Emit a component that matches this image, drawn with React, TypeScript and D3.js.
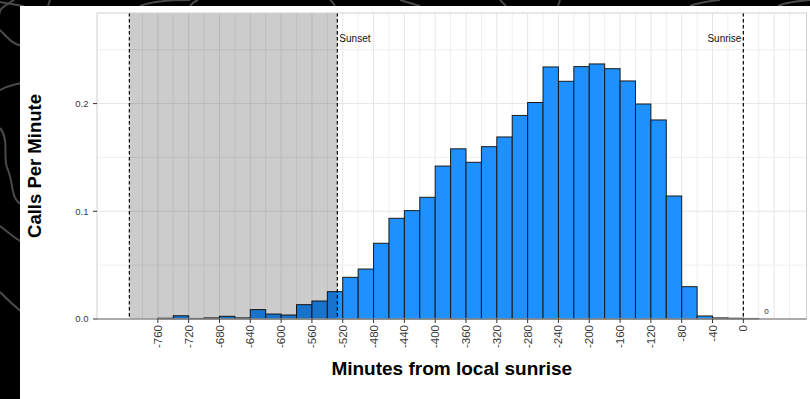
import React from "react";
import * as d3 from "d3";

// bin start (minutes from sunrise), each bin 20 minutes wide
const binStarts = [-760, -740, -720, -700, -680, -660, -640, -620, -600, -580, -560, -540, -520, -500, -480, -460, -440, -420, -400, -380, -360, -340, -320, -300, -280, -260, -240, -220, -200, -180, -160, -140, -120, -100, -80, -60, -40, -20, 0];
const callsPerMinute = [0.0007, 0.003, 0.0005, 0.001, 0.0025, 0.001, 0.0087, 0.0046, 0.0037, 0.0133, 0.0167, 0.0254, 0.0387, 0.0464, 0.0703, 0.0935, 0.1006, 0.113, 0.142, 0.158, 0.1455, 0.16, 0.169, 0.189, 0.201, 0.234, 0.2207, 0.2343, 0.2368, 0.2324, 0.221, 0.1996, 0.1848, 0.1142, 0.03, 0.0028, 0.001, 0.0007, 0.0005];
const binWidth = 20;
const xTicks = d3.range(-760, 1, 40);
const yTicks = [0, 0.1, 0.2];
const yMinor = [0.05, 0.15, 0.25];
const xGrid = d3.range(-780, 61, 20);
const nightStart = -797;
const sunset = -527;
const sunrise = 0;

const W = 810;
const H = 399;
const FONT = "'Liberation Sans', Arial, Helvetica, sans-serif";

export default function App() {
  const x = d3.scaleLinear().domain([-839, 82]).range([97, 806.5]);
  const y = d3.scaleLinear().domain([0, 0.2841]).range([319, 13]);
  const [x0, x1] = x.range();
  const [yb, yt] = y.range();

  return (
    <div style={{ position: "fixed", left: 0, top: 0 }}>
      <svg width={W} height={H} style={{ display: "block" }}>
        <rect x={0} y={0} width={W} height={H} fill="#000" />
        {/* decorative contour lines in background */}
        <g fill="none" stroke="#4a4a4a" strokeWidth={2}>
          <path d="M14,0 C4,6 -2,10 0,14" />
          <path d="M0,30 C8,38 12,44 22,46" />
          <path d="M0,90 C8,86 14,84 22,83" />
          <path d="M0,128 C10,140 2,160 8,170 C14,185 10,198 22,205" />
          <path d="M0,226 C8,232 14,238 22,242" />
          <path d="M0,292 C8,300 14,306 22,312" />
          <path d="M0,2 C10,4 16,5 24,6" />
          <path d="M50,0 L48,6" />
          <path d="M140,6 C150,2 170,0 190,0" />
          <path d="M190,6 C192,3 195,1 198,0" />
          <path d="M330,0 C333,2 334,4 335,6" />
          <path d="M400,0 C410,3 416,5 420,6" />
          <path d="M500,0 L506,6" />
          <path d="M560,0 L558,6" />
          <path d="M690,6 C700,2 710,1 720,0" />
          <path d="M778,6 C785,3 795,1 810,0" />
        </g>
        <rect x={20} y={6} width={W - 20} height={H - 6} fill="#fff" />

        {/* grid */}
        <g>
          {xGrid.map((v) => (
            <line key={"gx" + v} x1={x(v)} x2={x(v)} y1={yt} y2={yb} stroke={v % 40 === 0 ? "#e6e6e6" : "#efefef"} strokeWidth={1} />
          ))}
          {yMinor.map((v) => (
            <line key={"gm" + v} x1={x0} x2={x1} y1={y(v)} y2={y(v)} stroke="#efefef" strokeWidth={1} />
          ))}
          {yTicks.map((v) => (
            <line key={"gy" + v} x1={x0} x2={x1} y1={y(v)} y2={y(v)} stroke="#e6e6e6" strokeWidth={1} />
          ))}
        </g>

        {/* bars */}
        <g>
          {binStarts.map((b, i) => (
            <rect
              key={"b" + b}
              x={x(b)}
              y={y(callsPerMinute[i])}
              width={x(b + binWidth) - x(b)}
              height={y(0) - y(callsPerMinute[i])}
              fill="#1E90FF"
              stroke="#1a1a1a"
              strokeWidth={1}
            />
          ))}
        </g>

        {/* night shading */}
        <rect x={x(nightStart)} y={yt} width={x(sunset) - x(nightStart)} height={yb - yt} fill="#000" fillOpacity={0.2} />

        {/* dashed reference lines */}
        {[nightStart, sunset, sunrise].map((v) => (
          <line key={"d" + v} x1={x(v)} x2={x(v)} y1={yt} y2={yb} stroke="#000" strokeWidth={1.2} strokeDasharray="3.5,2.5" />
        ))}
        <text x={x(sunset) + 2} y={y(0.26)} dy="0.35em" fontSize={10} fontFamily={FONT} fill="#111">Sunset</text>
        <text x={x(sunrise) - 2} y={y(0.26)} dy="0.35em" fontSize={10} fontFamily={FONT} fill="#111" textAnchor="end">Sunrise</text>
        <text x={x(30)} y={y(0.0068)} dy="0.35em" fontSize={8} fontFamily={FONT} fill="#222" textAnchor="middle">0</text>

        {/* panel border */}
        <rect x={x0} y={yt} width={x1 - x0} height={yb - yt} fill="none" stroke="#cfcfcf" strokeWidth={1} />
        <line x1={x0} x2={x1} y1={yb} y2={yb} stroke="#777" strokeWidth={1} />

        {/* y axis */}
        {yTicks.map((v) => (
          <g key={"yt" + v}>
            <line x1={x0 - 4} x2={x0} y1={y(v)} y2={y(v)} stroke="#333" strokeWidth={1} />
            <text x={x0 - 8.5} y={y(v)} dy="0.35em" textAnchor="end" fontSize={9.5} fontFamily={FONT} fill="#3a3a3a">
              {d3.format(".1f")(v)}
            </text>
          </g>
        ))}

        {/* x axis */}
        {xTicks.map((v) => (
          <g key={"xt" + v}>
            <line x1={x(v)} x2={x(v)} y1={yb} y2={yb + 4} stroke="#333" strokeWidth={1} />
            <text
              transform={`translate(${x(v)},${yb + 6}) rotate(-90)`}
              dy="0.35em"
              textAnchor="end"
              fontSize={11.5}
              fontFamily={FONT}
              fill="#3a3a3a"
            >
              {v}
            </text>
          </g>
        ))}

        {/* titles */}
        <text x={(x0 + x1) / 2} y={375} textAnchor="middle" fontSize={19} fontWeight="bold" fontFamily={FONT} fill="#000">
          Minutes from local sunrise
        </text>
        <text transform={`translate(35,${(yt + yb) / 2}) rotate(-90)`} dy="0.35em" textAnchor="middle" fontSize={18.5} fontWeight="bold" fontFamily={FONT} fill="#000">
          Calls Per Minute
        </text>
      </svg>
    </div>
  );
}
